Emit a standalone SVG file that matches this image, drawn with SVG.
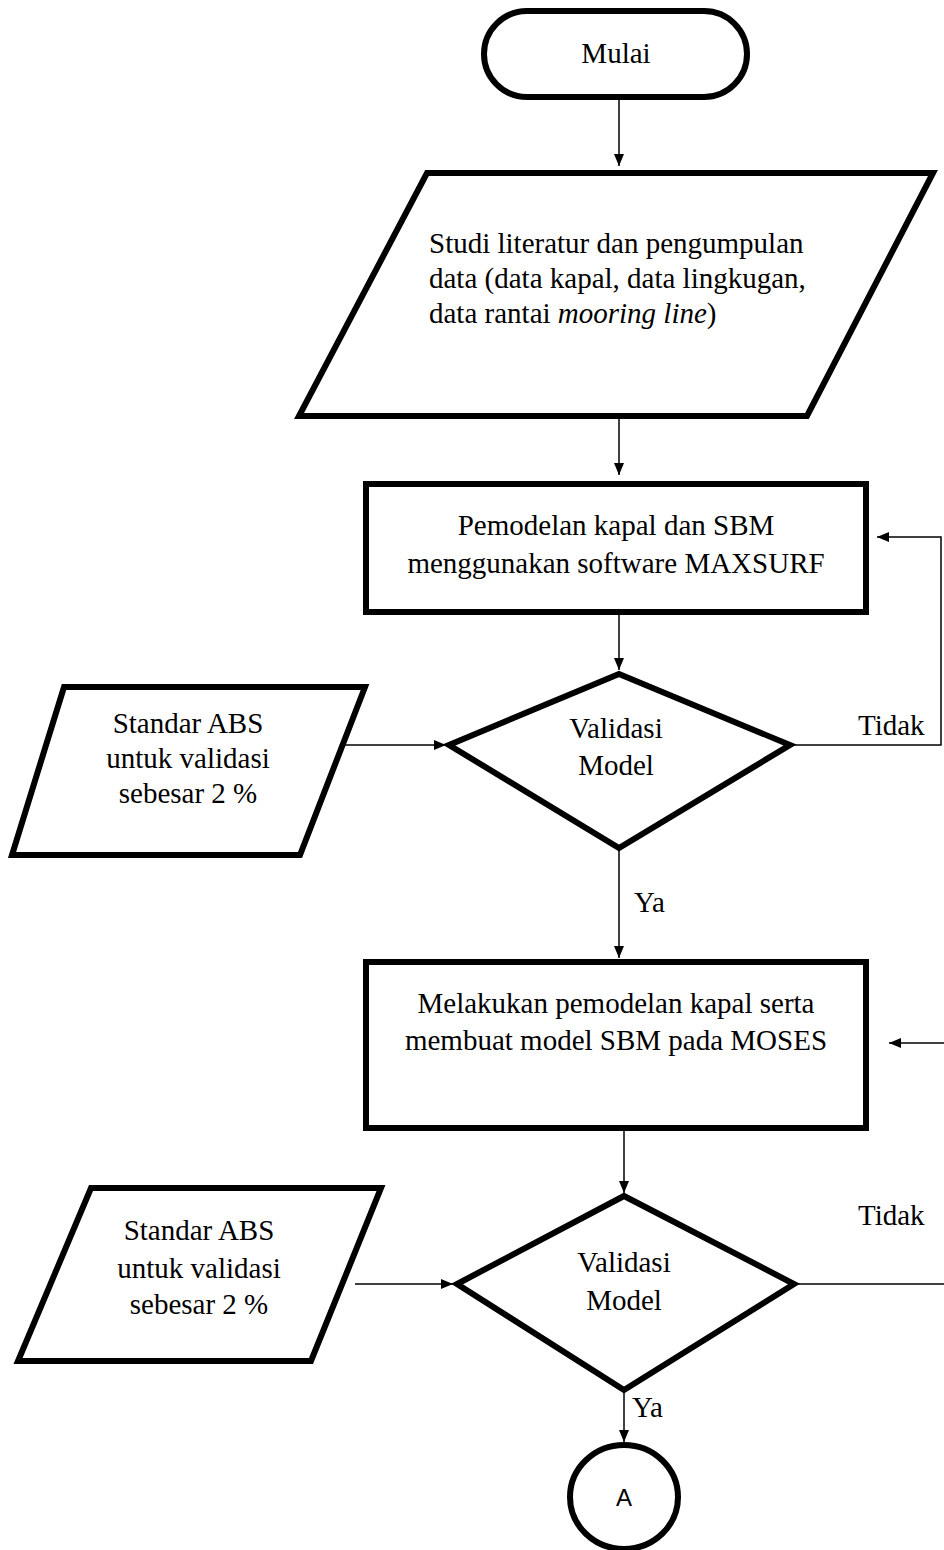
<svg xmlns="http://www.w3.org/2000/svg" width="944" height="1550" viewBox="0 0 944 1550">
<defs>
<style>
.shape{fill:#fff;stroke:#000;stroke-width:6;stroke-linejoin:miter}
.conn{fill:none;stroke:#000;stroke-width:1.5}
.t{font-family:"Liberation Serif","Times New Roman",serif;font-size:29px;fill:#000}
.c{text-anchor:middle}
.s{font-family:"Liberation Sans",Arial,sans-serif;font-size:24px;fill:#000;text-anchor:middle}
</style>
<marker id="ah" viewBox="0 0 12 10" refX="12" refY="5" markerWidth="12" markerHeight="10" markerUnits="userSpaceOnUse" orient="auto">
<path d="M0,0 L12,5 L0,10 Z" fill="#000"/>
</marker>
</defs>
<rect width="944" height="1550" fill="#fff"/>
<g id="connectors">
<line class="conn" x1="619" y1="97" x2="619" y2="166" marker-end="url(#ah)"/>
<line class="conn" x1="619" y1="418" x2="619" y2="475" marker-end="url(#ah)"/>
<line class="conn" x1="619" y1="614" x2="619" y2="670" marker-end="url(#ah)"/>
<line class="conn" x1="315" y1="745" x2="446" y2="745" marker-end="url(#ah)"/>
<polyline class="conn" points="790,745 941,745 941,537 877,537" marker-end="url(#ah)"/>
<line class="conn" x1="619" y1="850" x2="619" y2="958" marker-end="url(#ah)"/>
<line class="conn" x1="944" y1="1043" x2="889" y2="1043" marker-end="url(#ah)"/>
<line class="conn" x1="624" y1="1130" x2="624" y2="1193" marker-end="url(#ah)"/>
<line class="conn" x1="355" y1="1284" x2="453" y2="1284" marker-end="url(#ah)"/>
<line class="conn" x1="794" y1="1284" x2="944" y2="1284"/>
<line class="conn" x1="624" y1="1392" x2="624" y2="1442" marker-end="url(#ah)"/>
<text class="t" x="858" y="735">Tidak</text>
<text class="t" x="634" y="912">Ya</text>
<text class="t" x="858" y="1225">Tidak</text>
<text class="t" x="632" y="1417">Ya</text>
</g>
<g id="mulai">
<rect class="shape" x="484" y="11" width="263" height="86" rx="43" ry="43"/>
<text class="t c" x="616" y="63">Mulai</text>
</g>
<g id="studi">
<polygon class="shape" points="427,173 933,173 807,416 299,416"/>
<text class="t" x="429" y="253">Studi literatur dan pengumpulan</text>
<text class="t" x="429" y="288">data (data kapal, data lingkugan,</text>
<text class="t" x="429" y="323">data rantai <tspan font-style="italic">mooring line</tspan>)</text>
</g>
<g id="pemodelan-maxsurf">
<rect class="shape" x="366" y="484" width="500" height="128"/>
<text class="t c" x="616" y="535">Pemodelan kapal dan SBM</text>
<text class="t c" x="616" y="573">menggunakan software MAXSURF</text>
</g>
<g id="standar1">
<polygon class="shape" points="64,687 365,687 300,855 12,855"/>
<text class="t c" x="188" y="733">Standar ABS</text>
<text class="t c" x="188" y="768">untuk validasi</text>
<text class="t c" x="188" y="803">sebesar 2 %</text>
</g>
<g id="validasi1">
<polygon class="shape" points="619,674 790,745 619,848 449,745"/>
<text class="t c" x="616" y="738">Validasi</text>
<text class="t c" x="616" y="775">Model</text>
</g>
<g id="pemodelan-moses">
<rect class="shape" x="366" y="962" width="500" height="166"/>
<text class="t c" x="616" y="1013">Melakukan pemodelan kapal serta</text>
<text class="t c" x="616" y="1050">membuat model SBM pada MOSES</text>
</g>
<g id="standar2">
<polygon class="shape" points="91,1188 381,1188 311,1361 18,1361"/>
<text class="t c" x="199" y="1240">Standar ABS</text>
<text class="t c" x="199" y="1278">untuk validasi</text>
<text class="t c" x="199" y="1314">sebesar 2 %</text>
</g>
<g id="validasi2">
<polygon class="shape" points="624,1196 794,1284 624,1390 457,1284"/>
<text class="t c" x="624" y="1272">Validasi</text>
<text class="t c" x="624" y="1310">Model</text>
</g>
<g id="konektor-a">
<ellipse class="shape" cx="624" cy="1497" rx="54" ry="52"/>
<text class="s" x="624" y="1506">A</text>
</g>
</svg>
